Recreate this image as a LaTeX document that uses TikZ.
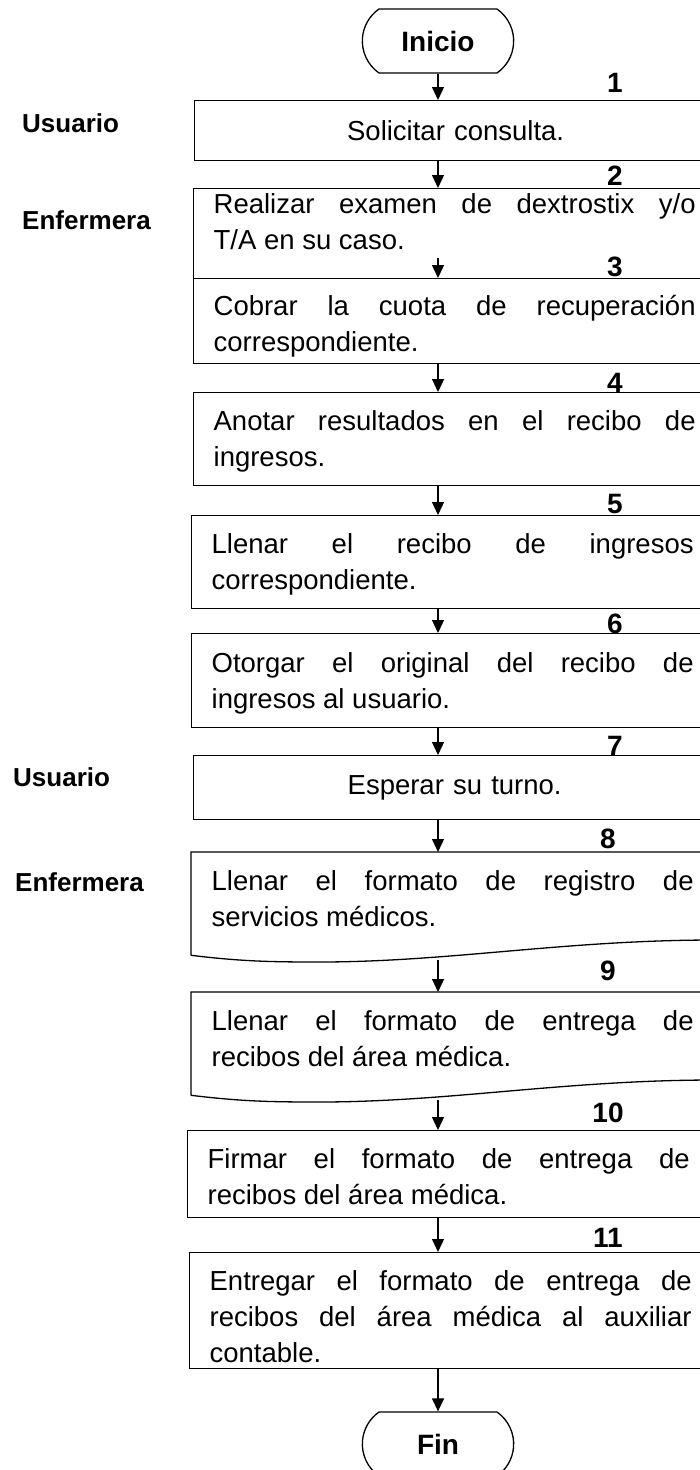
\documentclass[tikz,border=0pt]{standalone}
\usepackage{fontspec}
\setmainfont{Liberation Sans}
\usetikzlibrary{arrows.meta,shapes.misc}
\tolerance=10000
\hbadness=10000

\begin{document}
\begin{tikzpicture}[x=1pt, y=-1pt,
  linea/.style={line width=1.3pt},
  flecha/.style={linea, -{Triangle[length=13pt,width=12pt]}},
  caja/.style 2 args={linea, draw, anchor=north west, minimum width=520pt,
    text width=482pt, align=justify, inner xsep=20pt, inner ysep=0pt,
    text height=#1pt, text depth=#2pt, font=\fontsize{27.5}{36}\selectfont},
  terminal/.style={linea, draw, rounded rectangle, rounded rectangle arc length=110,
    minimum width=158pt, minimum height=64pt, font=\bfseries\fontsize{28}{30}\selectfont},
  etiqueta/.style={anchor=west, inner sep=0pt, font=\bfseries\fontsize{26}{30}\selectfont},
  num/.style={anchor=base, inner sep=0pt, font=\bfseries\fontsize{28}{30}\selectfont}]
\useasboundingbox (0,0) rectangle (700,1470);
\clip (0,0) rectangle (700,1470);

\node[terminal] (inicio) at (438,41) {Inicio};
\node[caja={40}{20}, align=center] (b1) at (194,100) {Solicitar consulta.};
\node[caja={25}{65}] (b2) at (193,188) {Realizar examen de dextrostix y/o\linebreak T/A en su caso.};
\node[caja={37}{48}] (b3) at (193,278) {Cobrar la cuota de recuperación\linebreak correspondiente.};
\node[caja={38}{55}] (b4) at (193,392) {Anotar resultados en el recibo de\linebreak ingresos.};
\node[caja={38}{55}] (b5) at (191,515) {Llenar el recibo de ingresos\linebreak correspondiente.};
\node[caja={39}{55}] (b6) at (191,633) {Otorgar el original del recibo de\linebreak ingresos al usuario.};
\node[caja={39}{25}, align=center] (b7) at (193,755) {Esperar su turno.};
\node[caja={38}{64}, draw=none] (b8) at (191,852) {Llenar el formato de registro de\linebreak servicios médicos.};
\node[caja={38}{64}, draw=none] (b9) at (191,992) {Llenar el formato de entrega de\linebreak recibos del área médica.};
\node[caja={38}{49}] (b10) at (187,1130) {Firmar el formato de entrega de\linebreak recibos del área médica.};
\node[caja={38}{78}] (b11) at (189,1252) {Entregar el formato de entrega de\linebreak recibos del área médica al auxiliar\linebreak contable.};
\node[terminal] (fin) at (438,1444) {Fin};

% documentos
\draw[linea] (b8.south west) -- (b8.north west) -- (b8.north east) -- ++(0,88)
  .. controls +(-150,0) and +(130,0) .. ++(-395,22)
  .. controls +(-50,0) and +(50,6) .. (b8.south west);
\draw[linea] (b9.south west) -- (b9.north west) -- (b9.north east) -- ++(0,88)
  .. controls +(-150,0) and +(130,0) .. ++(-395,22)
  .. controls +(-50,0) and +(50,6) .. (b9.south west);

\node[etiqueta] (u1) at (22,123) {Usuario};
\node[etiqueta] (e1) at (22,220) {Enfermera};
\node[etiqueta] (u2) at (13,777) {Usuario};
\node[etiqueta] (e2) at (15,882) {Enfermera};

\node[num] (n1) at (615,92) {1};
\node[num] (n2) at (615,185) {2};
\node[num] (n3) at (615,276) {3};
\node[num] (n4) at (615,392) {4};
\node[num] (n5) at (615,513) {5};
\node[num] (n6) at (615,633) {6};
\node[num] (n7) at (615,755) {7};
\node[num] (n8) at (608,848) {8};
\node[num] (n9) at (608,980) {9};
\node[num] (n10) at (608,1122) {10};
\node[num] (n11) at (608,1247) {11};

\draw[flecha] (inicio.south) -- (inicio.south |- b1.north);
\draw[flecha] (inicio.south |- b1.south) -- (inicio.south |- b2.north);
\draw[flecha] ([yshift=20pt]inicio.south |- b3.north) -- (inicio.south |- b3.north);
\draw[flecha] (inicio.south |- b3.south) -- (inicio.south |- b4.north);
\draw[flecha] (inicio.south |- b4.south) -- (inicio.south |- b5.north);
\draw[flecha] (inicio.south |- b5.south) -- (inicio.south |- b6.north);
\draw[flecha] (inicio.south |- b6.south) -- (inicio.south |- b7.north);
\draw[flecha] (inicio.south |- b7.south) -- (inicio.south |- b8.north);
\draw[flecha] ([yshift=-5pt]inicio.south |- b8.south) -- (inicio.south |- b9.north);
\draw[flecha] ([yshift=-5pt]inicio.south |- b9.south) -- (inicio.south |- b10.north);
\draw[flecha] (inicio.south |- b10.south) -- (inicio.south |- b11.north);
\draw[flecha] (inicio.south |- b11.south) -- (fin.north);

\end{tikzpicture}
\end{document}
